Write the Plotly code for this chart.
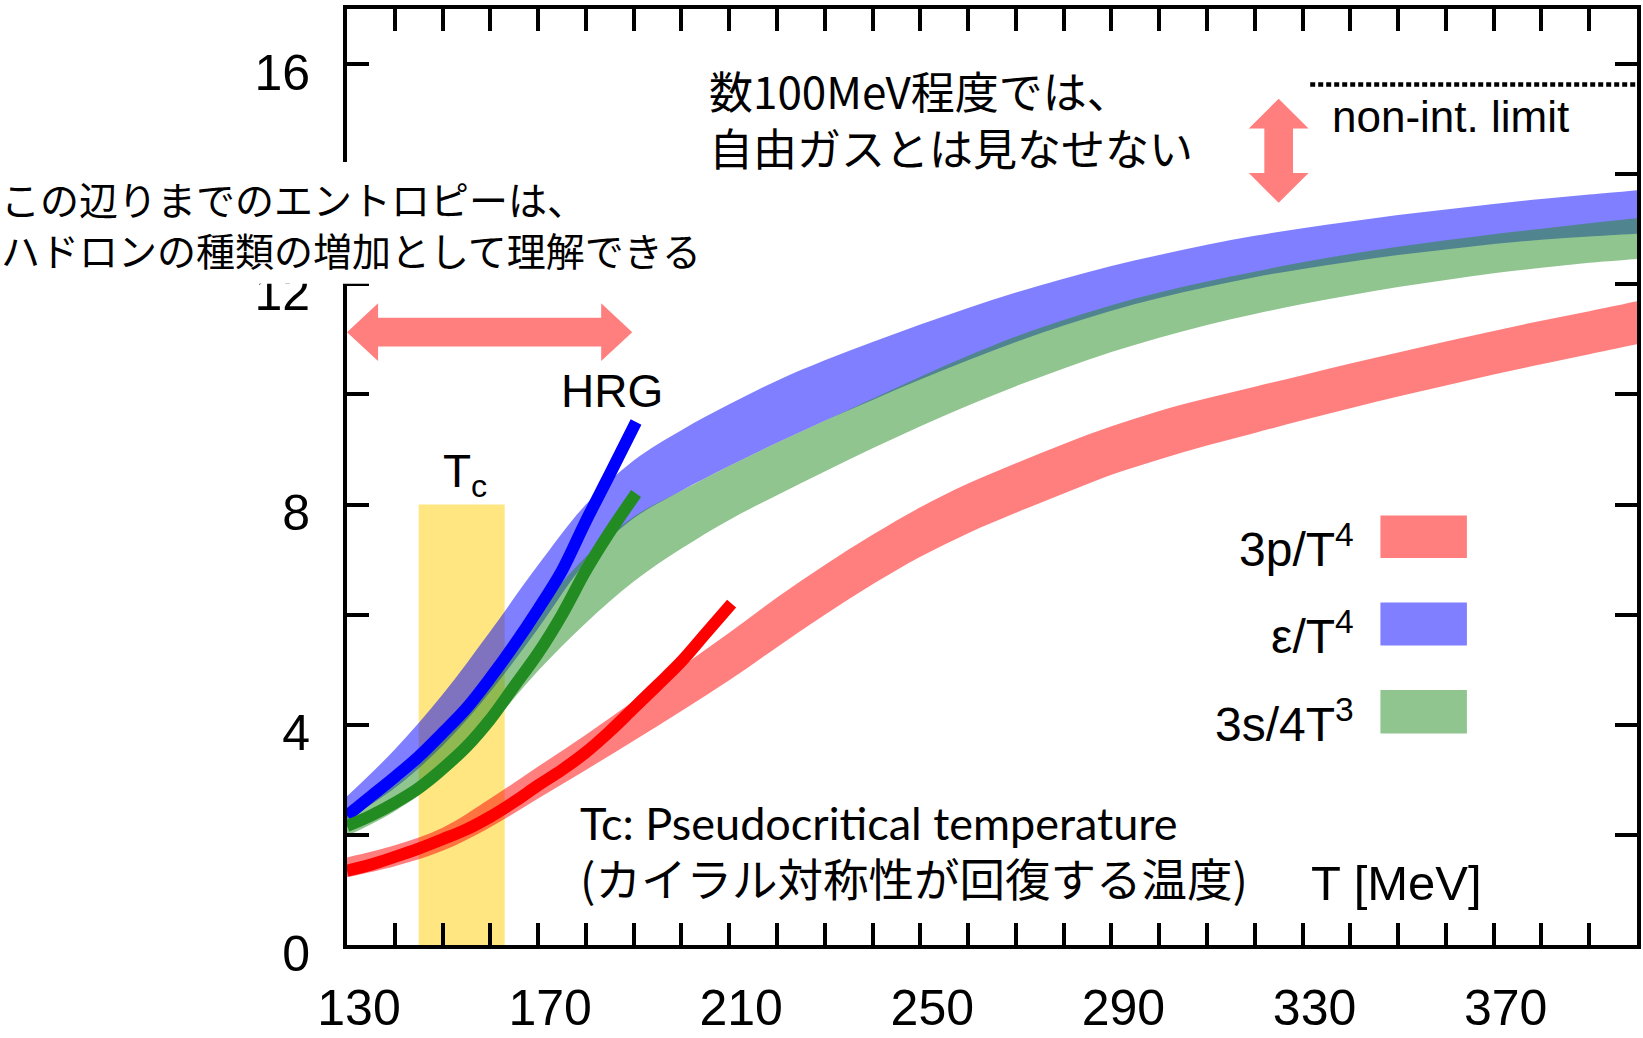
import plotly.graph_objects as go

# ---------------- data ----------------
T = [130, 140, 150, 160, 170, 180, 190, 200, 210, 220, 230, 240, 250, 260,
     270, 280, 290, 300, 310, 320, 330, 340, 350, 360, 370, 380, 390, 400]

# 3p/T^4 band (lower / upper)
p_lo = [1.23, 1.43, 1.71, 2.14, 2.66, 3.18, 3.71, 4.25, 4.81, 5.41, 6.00, 6.55, 7.05, 7.48,
        7.85, 8.20, 8.54, 8.82, 9.07, 9.30, 9.53, 9.75, 9.96, 10.16, 10.36, 10.55, 10.73, 10.91]
p_hi = [1.59, 1.81, 2.13, 2.66, 3.24, 3.82, 4.43, 5.05, 5.67, 6.31, 6.90, 7.45, 7.95, 8.38,
        8.75, 9.10, 9.42, 9.70, 9.93, 10.14, 10.35, 10.56, 10.76, 10.96, 11.15, 11.34, 11.51, 11.69]

# e/T^4 band
e_lo = [2.28, 2.85, 3.62, 4.60, 5.75, 6.95, 7.75, 8.25, 8.70, 9.12, 9.52, 9.90, 10.27, 10.62,
        10.95, 11.25, 11.52, 11.75, 11.95, 12.13, 12.28, 12.41, 12.53, 12.63, 12.73, 12.81, 12.87, 12.92]
e_hi = [2.70, 3.55, 4.55, 5.70, 6.90, 8.00, 8.80, 9.35, 9.82, 10.25, 10.62, 10.95, 11.27, 11.57,
        11.85, 12.10, 12.33, 12.53, 12.72, 12.88, 13.02, 13.14, 13.26, 13.36, 13.46, 13.55, 13.63, 13.71]

# 3s/4T^3 band
s_lo = [1.98, 2.43, 3.05, 3.98, 4.98, 5.85, 6.60, 7.20, 7.72, 8.17, 8.60, 9.02, 9.42, 9.80,
        10.15, 10.47, 10.77, 11.03, 11.26, 11.46, 11.64, 11.80, 11.95, 12.08, 12.20, 12.30, 12.39, 12.46]
s_hi = [2.34, 2.90, 3.72, 4.85, 6.05, 7.05, 7.78, 8.25, 8.70, 9.12, 9.52, 9.92, 10.32, 10.70,
        11.05, 11.35, 11.62, 11.85, 12.05, 12.23, 12.40, 12.55, 12.68, 12.80, 12.91, 13.01, 13.11, 13.20]

# HRG curves
T_hrg_e = [130, 135, 140, 145, 150, 155, 160, 165, 170, 175, 180, 185, 190.5]
hrg_e = [2.35, 2.70, 3.05, 3.42, 3.85, 4.30, 4.85, 5.45, 6.10, 6.80, 7.70, 8.55, 9.50]
T_hrg_s = [130, 135, 140, 145, 150, 155, 160, 165, 170, 175, 180, 185, 190.5]
hrg_s = [2.16, 2.35, 2.58, 2.85, 3.20, 3.60, 4.10, 4.70, 5.30, 6.00, 6.80, 7.50, 8.20]
T_hrg_p = [130, 135, 140, 145, 150, 155, 160, 165, 170, 175, 180, 185, 190, 195, 200, 205, 210.5]
hrg_p = [1.35, 1.46, 1.60, 1.75, 1.92, 2.10, 2.33, 2.60, 2.90, 3.18, 3.50, 3.88, 4.30, 4.72, 5.15, 5.65, 6.20]

# Tc band and limit
TC_RANGE = [145, 163]
TC_TOP = 8.0
NONINT_LIMIT = 15.63
NONINT_T = [331.6, 400]

x_tickvals = [130, 170, 210, 250, 290, 330, 370]
y_tickvals = [0, 4, 8, 12, 16]

# arrows (tip positions, data units)
H_ARROW = dict(x0=130, x1=189.7, y=11.13)
V_ARROW = dict(x=325.0, y0=13.48, y1=15.37)

# ---------------- styles ----------------
C_RED = "rgba(255,0,0,0.5)"
C_BLUE = "rgba(0,0,255,0.5)"
C_GREEN = "rgba(34,139,34,0.5)"
C_ARROW = "rgb(255,127,127)"
C_TC = "rgb(255,230,128)"
GN_FONT = "Liberation Sans, Arial, sans-serif"
JP_FONT = "Noto Sans CJK JP, sans-serif"

fig = go.Figure()

# Tc band
fig.add_trace(go.Scatter(x=[TC_RANGE[0], TC_RANGE[1], TC_RANGE[1], TC_RANGE[0], TC_RANGE[0]],
                         y=[0, 0, TC_TOP, TC_TOP, 0], fill="toself", fillcolor=C_TC,
                         line=dict(width=0), mode="lines", hoverinfo="skip", showlegend=False))


def band(lo, hi, color, name):
    fig.add_trace(go.Scatter(x=T, y=lo, mode="lines", line=dict(width=0, shape="spline"),
                             showlegend=False, hoverinfo="skip"))
    fig.add_trace(go.Scatter(x=T, y=hi, mode="lines", line=dict(width=0, shape="spline"),
                             fill="tonexty", fillcolor=color, name=name, showlegend=False))


band(p_lo, p_hi, C_RED, "3p/T4")
band(e_lo, e_hi, C_BLUE, "e/T4")
band(s_lo, s_hi, C_GREEN, "3s/4T3")

fig.add_trace(go.Scatter(x=T_hrg_p, y=hrg_p, mode="lines",
                         line=dict(color="rgb(255,0,0)", width=12, shape="spline"), showlegend=False))
fig.add_trace(go.Scatter(x=T_hrg_e, y=hrg_e, mode="lines",
                         line=dict(color="rgb(0,0,255)", width=12, shape="spline"), showlegend=False))
fig.add_trace(go.Scatter(x=T_hrg_s, y=hrg_s, mode="lines",
                         line=dict(color="rgb(34,139,34)", width=12, shape="spline"), showlegend=False))

# non-interacting limit
fig.add_trace(go.Scatter(x=NONINT_T, y=[NONINT_LIMIT, NONINT_LIMIT], mode="lines",
                         line=dict(color="black", width=4.5, dash="5px,3px"), showlegend=False))

shapes = []

# horizontal double arrow
hl, hh_, sh = 6.5, 0.524, 0.262
ax0, ax1, ay = H_ARROW["x0"], H_ARROW["x1"], H_ARROW["y"]
pts = [(ax0, ay), (ax0 + hl, ay + hh_), (ax0 + hl, ay + sh), (ax1 - hl, ay + sh), (ax1 - hl, ay + hh_),
       (ax1, ay), (ax1 - hl, ay - hh_), (ax1 - hl, ay - sh), (ax0 + hl, ay - sh), (ax0 + hl, ay - hh_)]
path = "M " + " L ".join(f"{x},{y}" for x, y in pts) + " Z"
shapes.append(dict(type="path", path=path, xref="x", yref="y", fillcolor=C_ARROW, line=dict(width=0),
                   layer="above"))

# vertical double arrow
vl, vw, vs = 0.54, 6.26, 3.0
bx, by0, by1 = V_ARROW["x"], V_ARROW["y0"], V_ARROW["y1"]
pts = [(bx, by1), (bx + vw, by1 - vl), (bx + vs, by1 - vl), (bx + vs, by0 + vl), (bx + vw, by0 + vl),
       (bx, by0), (bx - vw, by0 + vl), (bx - vs, by0 + vl), (bx - vs, by1 - vl), (bx - vw, by1 - vl)]
path = "M " + " L ".join(f"{x},{y}" for x, y in pts) + " Z"
shapes.append(dict(type="path", path=path, xref="x", yref="y", fillcolor=C_ARROW, line=dict(width=0),
                   layer="above"))

# white box behind the left-hand note (covers axis)
shapes.append(dict(type="rect", xref="paper", yref="y", x0=-0.2682, x1=0.5046, y0=12.01, y1=14.22,
                   fillcolor="white", line=dict(width=0), layer="above"))

# legend swatches
legend_items = [("3p/T<sup>4</sup>", C_RED, 7.03, 7.80),
                ("ε/T<sup>4</sup>", C_BLUE, 5.44, 6.22),
                ("3s/4T<sup>3</sup>", C_GREEN, 3.84, 4.63)]
annotations = []
for label, col, y0, y1 in legend_items:
    shapes.append(dict(type="rect", xref="x", yref="y", x0=346.3, x1=364.4, y0=y0, y1=y1,
                       fillcolor=col, line=dict(width=0), layer="above"))
    annotations.append(dict(x=341.2, y=(y0 + y1) / 2 - 0.17, xref="x", yref="y", text=label,
                            showarrow=False, xanchor="right", yanchor="middle",
                            font=dict(family=GN_FONT, size=48, color="black")))

annotations += [
    dict(x=154.8, y=7.98, xref="x", yref="y", text="T<sub>c</sub>", showarrow=False,
         xanchor="center", yanchor="bottom", font=dict(family=GN_FONT, size=46, color="black")),
    dict(x=185.5, y=10.06, xref="x", yref="y", text="HRG", showarrow=False,
         xanchor="center", yanchor="middle", font=dict(family=GN_FONT, size=46, color="black")),
    dict(x=335.7, y=15.05, xref="x", yref="y", text="non-int. limit", showarrow=False,
         xanchor="left", yanchor="middle", font=dict(family=GN_FONT, size=44, color="black")),
    dict(x=349.7, y=1.12, xref="x", yref="y", text="T [MeV]", showarrow=False,
         xanchor="center", yanchor="middle", font=dict(family=GN_FONT, size=49, color="black")),
    dict(x=205.4, y=15.01, xref="x", yref="y", text="数100MeV程度では、<br>自由ガスとは見なせない",
         showarrow=False, xanchor="left", yanchor="middle", align="left",
         font=dict(family=JP_FONT, size=44, color="black")),
    dict(x=-0.2682, y=13.11, xref="paper", yref="y", xshift=-2,
         text="この辺りまでのエントロピーは、<br>ハドロンの種類の増加として理解できる",
         showarrow=False, xanchor="left", yanchor="middle", align="left",
         font=dict(family=JP_FONT, size=39, color="black")),
    dict(x=178.4, y=2.22, xref="x", yref="y", text="Tc: Pseudocritical temperature",
         showarrow=False, xanchor="left", yanchor="middle",
         font=dict(family="Lato, Noto Sans CJK JP, sans-serif", size=45, color="black")),
    dict(x=178.4, y=1.23, xref="x", yref="y", text="(カイラル対称性が回復する温度)",
         showarrow=False, xanchor="left", yanchor="middle",
         font=dict(family=JP_FONT, size=45.5, color="black")),
]

axis_common = dict(showline=True, linewidth=4, linecolor="black", mirror="ticks",
                   ticks="inside", ticklen=22, tickwidth=3.5, tickcolor="black",
                   showgrid=False, zeroline=False,
                   tickfont=dict(family=GN_FONT, size=50, color="black"))

fig.update_layout(
    width=1643, height=1038,
    margin=dict(l=347, r=2, t=9, b=88),
    paper_bgcolor="white", plot_bgcolor="white",
    showlegend=False,
    xaxis=dict(range=[130, 400], tickmode="array", tickvals=x_tickvals,
               ticklabelshift=12, ticklabelstandoff=16,
               minor=dict(dtick=10, tick0=130, ticks="inside", ticklen=22, tickwidth=3.5,
                          tickcolor="black", showgrid=False),
               **axis_common),
    yaxis=dict(range=[0, 17], tickmode="array", tickvals=y_tickvals,
               ticklabelshift=8, ticklabelstandoff=23,
               minor=dict(dtick=2, tick0=0, ticks="inside", ticklen=22, tickwidth=3.5,
                          tickcolor="black", showgrid=False),
               **axis_common),
    shapes=shapes,
    annotations=annotations,
)

fig.write_html("out.html", config={"displayModeBar": False},
               post_script="document.body.style.margin='0px';document.body.style.overflow='hidden';")
